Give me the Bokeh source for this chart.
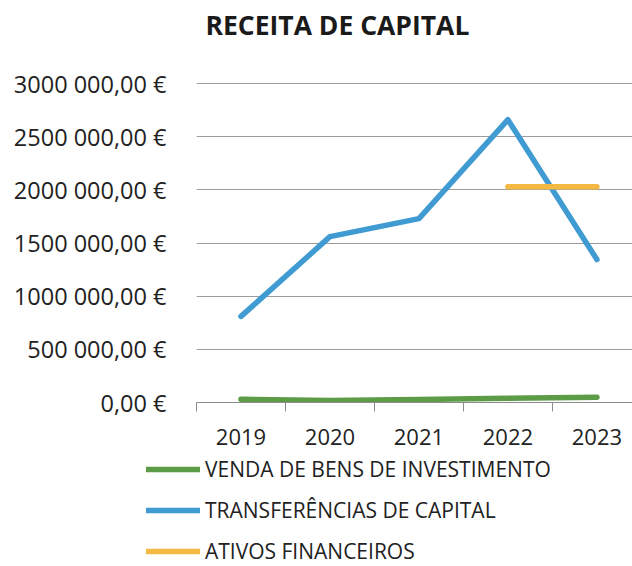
from bokeh.plotting import figure
from bokeh.layouts import column
from bokeh.models import (ColumnDataSource, Range1d, FixedTicker, Legend, LegendItem, Title)
from bokeh.embed import file_html
from bokeh.resources import INLINE

# ---- data ----
years = ["2019", "2020", "2021", "2022", "2023"]
venda_bens = [31000, 19000, 28000, 40000, 50000]
transferencias = [810000, 1560000, 1730000, 2660000, 1345000]
ativos_financeiros = [float("nan"), float("nan"), float("nan"), 2030000, 2030000]
y_ticks = [0, 500000, 1000000, 1500000, 2000000, 2500000, 3000000]
y_tick_labels = ["0,00 €", "500 000,00 €", "1000 000,00 €", "1500 000,00 €",
                 "2000 000,00 €", "2500 000,00 €", "3000 000,00 €"]
series_names = ["VENDA DE BENS DE INVESTIMENTO", "TRANSFERÊNCIAS DE CAPITAL", "ATIVOS FINANCEIROS"]
colors = ["#5c9c46", "#3f9bd2", "#f4b942"]

x_pos = list(range(1, len(years) + 1))
src = ColumnDataSource(dict(x=x_pos, venda=venda_bens, transf=transferencias, ativos=ativos_financeiros))

FONT = "Open Sans"
W = 632

# ---- title strip ----
pt = figure(width=W, height=56, output_backend="svg", toolbar_location=None,
            x_axis_type=None, y_axis_type=None, frame_align=False,
            min_border_left=0, min_border_right=0, min_border_top=0, min_border_bottom=0)
pt.outline_line_color = None
pt.grid.visible = False
pt.add_layout(Title(text="RECEITA DE CAPITAL", align="left", offset=205, text_font=FONT,
                    text_font_size="26.5px", text_font_style="bold", text_color="#1a1a1a",
                    standoff=12, vertical_align="top"), "above")

# ---- chart ----
p = figure(width=W, height=396, output_backend="svg", toolbar_location=None,
           x_range=Range1d(0.5, 5.4), y_range=Range1d(0, 3010000), frame_align=False,
           min_border_left=196, min_border_right=0, min_border_top=26, min_border_bottom=50)
p.outline_line_color = None

p.xgrid.grid_line_color = None
p.ygrid.ticker = FixedTicker(ticks=y_ticks)
p.ygrid.grid_line_color = "#9c9c9c"
p.ygrid.grid_line_width = 1

p.yaxis.ticker = FixedTicker(ticks=y_ticks)
p.yaxis.major_label_overrides = {t_: l for t_, l in zip(y_ticks, y_tick_labels)}
p.yaxis.axis_line_color = None
p.yaxis.major_tick_line_color = None
p.yaxis.minor_tick_line_color = None
p.yaxis.major_label_standoff = 24
p.yaxis.major_label_text_font = FONT
p.yaxis.major_label_text_font_size = "23.5px"
p.yaxis.major_label_text_color = "#222222"

p.xaxis.ticker = FixedTicker(ticks=x_pos, minor_ticks=[x - 0.5 for x in x_pos])
p.xaxis.major_label_overrides = {x: y for x, y in zip(x_pos, years)}
p.xaxis.axis_line_color = "#8c8c8c"
p.xaxis.major_tick_line_color = None
p.xaxis.minor_tick_line_color = "#8c8c8c"
p.xaxis.minor_tick_in = 0
p.xaxis.minor_tick_out = 9
p.xaxis.major_tick_out = 9
p.xaxis.major_tick_in = 0
p.xaxis.major_label_standoff = 17
p.xaxis.major_label_text_font = FONT
p.xaxis.major_label_text_font_size = "22px"
p.xaxis.major_label_text_color = "#222222"

lw = 5.5
r_venda = p.line("x", "venda", source=src, line_color=colors[0], line_width=lw,
                 line_cap="round", line_join="round")
r_transf = p.line("x", "transf", source=src, line_color=colors[1], line_width=lw,
                  line_cap="round", line_join="round")
r_ativos = p.line("x", "ativos", source=src, line_color=colors[2], line_width=lw,
                  line_cap="round", line_join="round")

# ---- legend strip ----
pl = figure(width=W, height=114, output_backend="svg", toolbar_location=None,
            x_axis_type=None, y_axis_type=None, x_range=Range1d(0, 1), y_range=Range1d(0, 1),
            frame_align=False,
            min_border_left=0, min_border_right=0, min_border_top=0, min_border_bottom=0)
pl.outline_line_color = None
pl.grid.visible = False
# legend swatches share the chart's styling; they hold no points of their own
swatch_src = ColumnDataSource(dict(x=[float("nan")], y=[float("nan")]))
leg_r = [pl.line("x", "y", source=swatch_src, line_color=c, line_width=lw, line_cap="round")
         for c in colors]
legend = Legend(items=[LegendItem(label=n, renderers=[r]) for n, r in zip(series_names, leg_r)],
                location=(146, 1), orientation="vertical")
legend.padding = 0
legend.margin = 0
legend.spacing = 13
legend.glyph_width = 54
legend.glyph_height = 20
legend.label_height = 20
legend.label_standoff = 5
legend.label_text_font = FONT
legend.label_text_font_size = "21px"
legend.label_text_color = "#222222"
legend.border_line_color = None
legend.background_fill_alpha = 0
pl.add_layout(legend, "center")

layout = column(pt, p, pl, spacing=0)
open("out.html", "w").write(file_html(layout, INLINE))
